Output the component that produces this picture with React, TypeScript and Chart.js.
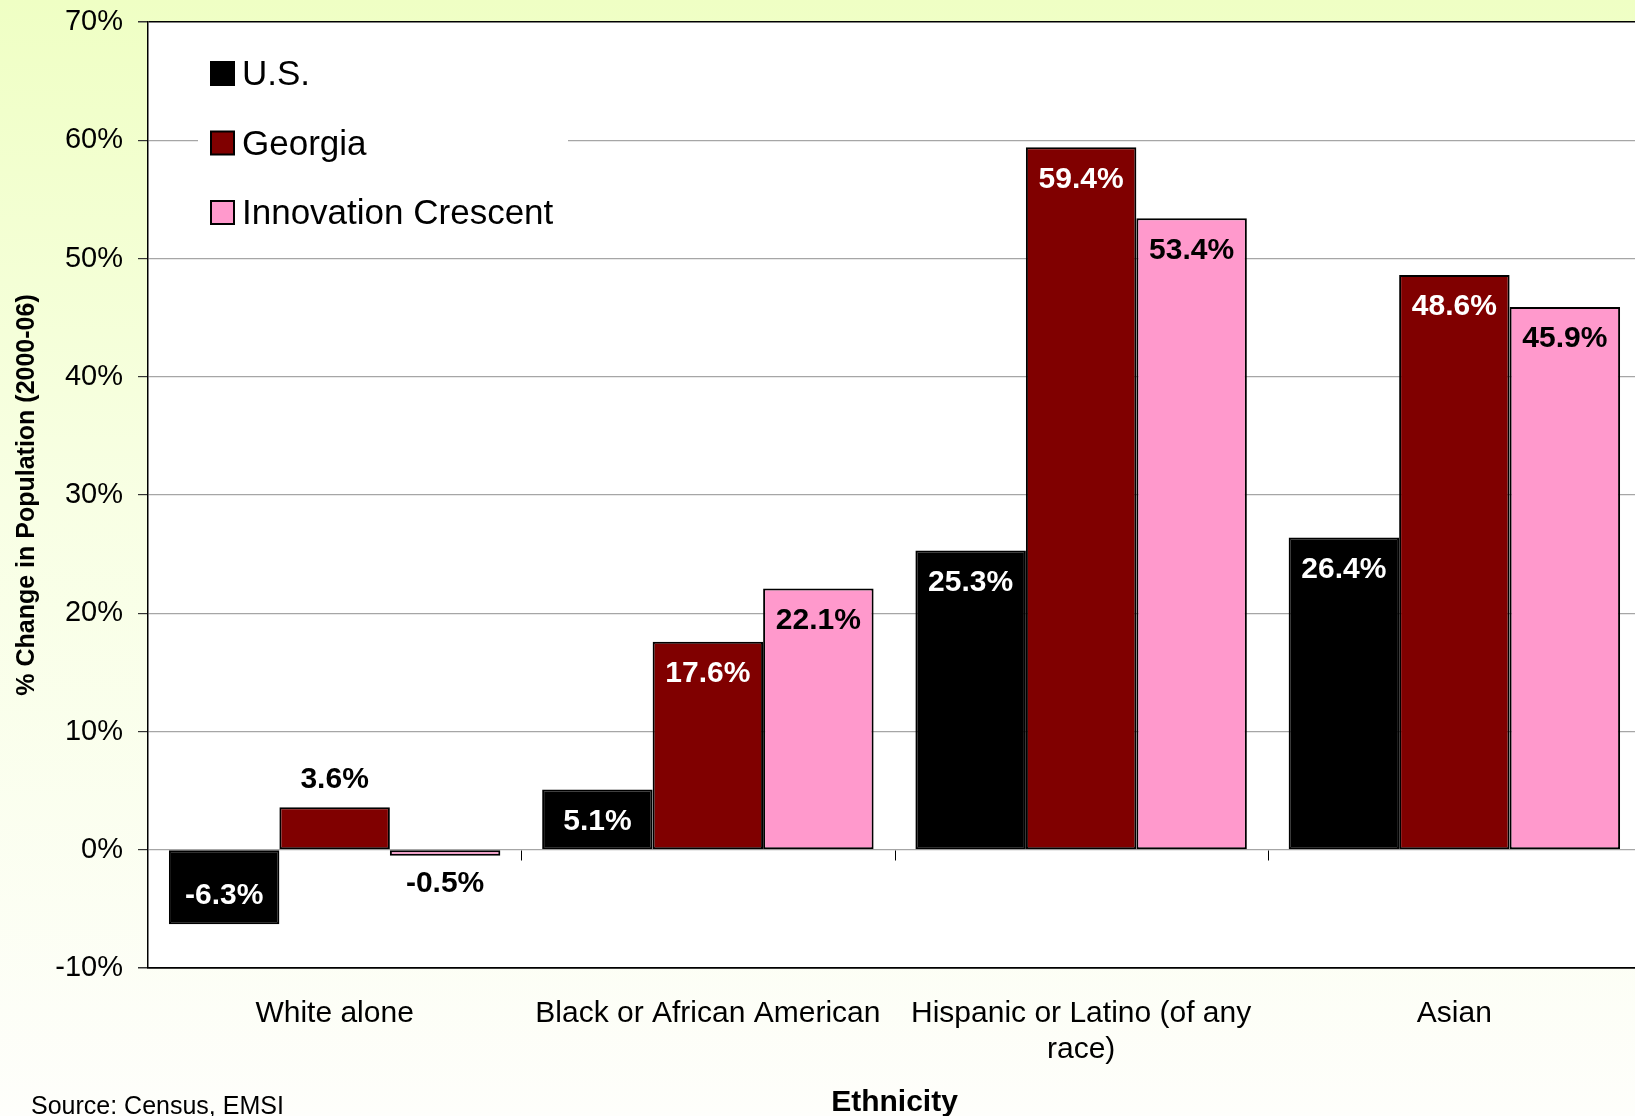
import React, { useEffect, useRef } from 'react';
import { Chart, registerables } from 'chart.js';

Chart.register(...registerables);

// ---------- data ----------
const categories: (string | string[])[] = [
  'White alone',
  'Black or African American',
  ['Hispanic or Latino (of any', 'race)'],
  'Asian',
];
const seriesNames = ['U.S.', 'Georgia', 'Innovation Crescent'];
const usValues = [-6.3, 5.1, 25.3, 26.4];
const georgiaValues = [3.6, 17.6, 59.4, 48.6];
const crescentValues = [-0.5, 22.1, 53.4, 45.9];
const yMin = -10;
const yMax = 70;
const yStep = 10;
const yTitle = '% Change in Population (2000-06)';
const xTitle = 'Ethnicity';
const sourceNote = 'Source: Census, EMSI';

// ---------- styles ----------
const FONT = '"Liberation Sans", Arial, Helvetica, sans-serif';
const seriesColors = ['#000000', '#800000', '#FF99CC'];
const insideLabelColors = ['#ffffff', '#ffffff', '#000000'];
const CANVAS_W = 1641;
const CANVAS_H = 1116;

const backgroundPlugin = {
  id: 'bgPlugin',
  beforeDraw(chart: any) {
    const { ctx, chartArea } = chart;
    ctx.save();
    const g = ctx.createLinearGradient(0, 0, 0, chart.height);
    g.addColorStop(0, '#EFFFC4');
    g.addColorStop(0.45, '#F8FFE4');
    g.addColorStop(1, '#FEFEFB');
    ctx.fillStyle = g;
    ctx.fillRect(0, 0, chart.width, chart.height);
    ctx.fillStyle = '#ffffff';
    ctx.fillRect(chartArea.left, chartArea.top, chartArea.right - chartArea.left, chartArea.bottom - chartArea.top);
    ctx.restore();
  },
};

const zeroTickPlugin = {
  id: 'zeroTicks',
  afterDatasetsDraw(chart: any) {
    const { ctx } = chart;
    const xs = chart.scales.x;
    const ys = chart.scales.y;
    const y0 = Math.round(ys.getPixelForValue(0)) + 0.5;
    ctx.save();
    ctx.strokeStyle = '#000000';
    ctx.lineWidth = 1;
    for (let i = 0; i < categories.length - 1; i++) {
      const x = Math.round((xs.getPixelForValue(i) + xs.getPixelForValue(i + 1)) / 2) + 0.5;
      ctx.beginPath();
      ctx.moveTo(x, y0);
      ctx.lineTo(x, y0 + 10);
      ctx.stroke();
    }
    ctx.restore();
  },
};

const dataLabelPlugin = {
  id: 'dataLabels',
  afterDatasetsDraw(chart: any) {
    const { ctx } = chart;
    ctx.save();
    ctx.font = `bold 30px ${FONT}`;
    ctx.textAlign = 'center';
    ctx.textBaseline = 'middle';
    chart.data.datasets.forEach((ds: any, di: number) => {
      const meta = chart.getDatasetMeta(di);
      meta.data.forEach((bar: any, i: number) => {
        const v = ds.data[i];
        const h = Math.abs(bar.base - bar.y);
        const dir = v >= 0 ? 1 : -1; // 1: upward bar
        let y: number;
        let color: string;
        if (h < 50) {
          y = dir > 0 ? bar.y - 28 : bar.y + 27;
          color = '#000000';
        } else {
          y = dir > 0 ? bar.y + 31 : bar.y - 30;
          color = insideLabelColors[di];
        }
        ctx.fillStyle = color;
        ctx.fillText(v.toFixed(1) + '%', bar.x, y + 1);
      });
    });
    ctx.restore();
  },
};

const legendPlugin = {
  id: 'boxLegend',
  afterDatasetsDraw(chart: any) {
    const { ctx } = chart;
    ctx.save();
    ctx.fillStyle = '#ffffff';
    ctx.fillRect(198, 42, 370, 200);
    const rows = [73.5, 143, 212.5];
    ctx.font = `35px ${FONT}`;
    ctx.textAlign = 'left';
    ctx.textBaseline = 'middle';
    chart.data.datasets.forEach((ds: any, i: number) => {
      const cy = rows[i];
      ctx.fillStyle = ds.backgroundColor;
      ctx.fillRect(211, cy - 11.5, 23, 23);
      ctx.strokeStyle = '#000000';
      ctx.lineWidth = 2;
      ctx.strokeRect(211, cy - 11.5, 23, 23);
      ctx.fillStyle = '#000000';
      ctx.fillText(ds.label, 242, cy + 2);
    });
    ctx.restore();
  },
};

const sourcePlugin = {
  id: 'sourceNote',
  afterDraw(chart: any) {
    const { ctx } = chart;
    ctx.save();
    ctx.font = `25px ${FONT}`;
    ctx.fillStyle = '#000000';
    ctx.textAlign = 'left';
    ctx.textBaseline = 'middle';
    ctx.fillText(sourceNote, 31, 1107);
    ctx.restore();
  },
};

export default function App() {
  const canvasRef = useRef<HTMLCanvasElement | null>(null);

  useEffect(() => {
    const canvas = canvasRef.current;
    if (!canvas) return;
    const valueSets = [usValues, georgiaValues, crescentValues];
    const chart = new Chart(canvas, {
      type: 'bar',
      data: {
        labels: categories as any,
        datasets: seriesNames.map((name, i) => ({
          label: name,
          data: valueSets[i],
          backgroundColor: seriesColors[i],
          borderColor: '#000000',
          borderWidth: 2,
          borderSkipped: false,
          categoryPercentage: 0.888,
          barPercentage: 1.0,
        })),
      },
      options: {
        responsive: false,
        animation: false,
        devicePixelRatio: 1,
        layout: { padding: { top: 22, left: 0, right: 0, bottom: 0 } },
        plugins: {
          legend: { display: false },
          tooltip: { enabled: false },
        },
        scales: {
          x: {
            grid: { display: false, drawTicks: false },
            border: { display: true, color: '#000000', width: 1.5 },
            ticks: {
              color: '#000000',
              font: { family: FONT, size: 30, lineHeight: 1.2 },
              padding: 28,
              maxRotation: 0,
              autoSkip: false,
            },
            title: {
              display: true,
              text: xTitle,
              color: '#000000',
              font: { family: FONT, size: 30, weight: 'bold', lineHeight: 1 },
              padding: { top: 0, bottom: -2 },
            },
            afterFit: (scale: any) => {
              scale.height = 148;
            },
          },
          y: {
            min: yMin,
            max: yMax,
            grid: {
              color: (ctx: any) => (ctx.tick && (ctx.tick.value === yMax || ctx.tick.value === yMin) ? '#000000' : '#A6A6A6'),
              lineWidth: (ctx: any) => (ctx.tick && (ctx.tick.value === yMax || ctx.tick.value === yMin) ? 1.5 : 1.2),
              tickLength: 10,
              tickColor: '#333333',
            },
            border: { display: true, color: '#000000', width: 1.5 },
            ticks: {
              stepSize: yStep,
              color: '#000000',
              font: { family: FONT, size: 29 },
              padding: 15,
              callback: (v: any) => `${v}%`,
            },
            title: {
              display: true,
              text: yTitle,
              color: '#000000',
              font: { family: FONT, size: 25, weight: 'bold', lineHeight: 1.2 },
              padding: { top: 12, bottom: 0 },
            },
            afterFit: (scale: any) => {
              scale.width = 148;
              scale.paddingTop = 0;
              scale.paddingBottom = 0;
            },
          },
        },
      },
      plugins: [backgroundPlugin, zeroTickPlugin, dataLabelPlugin, legendPlugin, sourcePlugin],
    } as any);
    return () => chart.destroy();
  }, []);

  return (
    <div
      style={{
        position: 'fixed',
        left: 0,
        top: 0,
        width: 1635,
        height: 1116,
        overflow: 'hidden',
      }}
    >
      <canvas ref={canvasRef} width={CANVAS_W} height={CANVAS_H} style={{ width: CANVAS_W, height: CANVAS_H, display: 'block' }} />
    </div>
  );
}
